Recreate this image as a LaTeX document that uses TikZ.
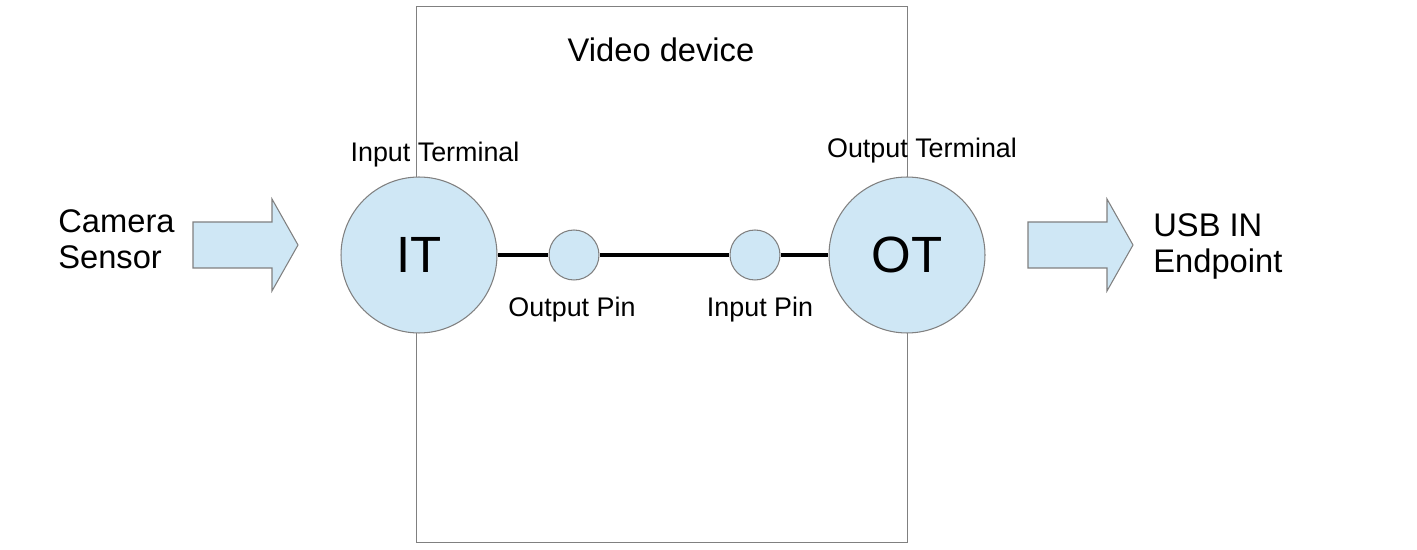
\documentclass[tikz,border=0pt]{standalone}
\usepackage{fontspec}
\setmainfont{Liberation Sans}
\usetikzlibrary{calc}
\definecolor{termblue}{HTML}{CFE7F5}
\definecolor{edgegray}{HTML}{808080}

\begin{document}
\begin{tikzpicture}[x=0.02cm,y=-0.02cm,
                    device/.style={draw=edgegray,line width=0.6pt,minimum width=9.84cm,minimum height=10.74cm},
                    terminal/.style={circle,draw=edgegray,line width=0.6pt,fill=termblue,inner sep=0pt,minimum size=3.12cm,font=\fontsize{29}{32}\selectfont},
                    pin/.style={circle,draw=edgegray,line width=0.6pt,fill=termblue,inner sep=0pt,minimum size=1cm},
                    wire/.style={line width=2.3pt,black},
                    block arrow/.style={draw=edgegray,line width=0.6pt,fill=termblue},
                    small label/.style={font=\fontsize{15.3}{18}\selectfont,inner sep=0pt},
                    big label/.style={font=\fontsize{18.6}{20.5}\selectfont,align=left,inner sep=0pt}]
            \useasboundingbox (0,0) rectangle (1417,550);
            \node[device] (device) at (662,274.5) {};
            \node[big label] (title) at (661,50) {Video device};
            \node[terminal] (it) at (419,255) {IT};
            \node[terminal] (ot) at (907,255) {OT};
            \node[pin] (out pin) at (574,255) {};
            \node[pin] (in pin) at (755,255) {};
            \draw[wire] (it) -- (out pin) -- (in pin) -- (ot);
            \node[small label] (it label) at (435,155) {Input Terminal};
            \node[small label] (ot label) at (922,151) {Output Terminal};
            \node[small label] (out pin label) at (572,310) {Output Pin};
            \node[small label] (in pin label) at (760,310) {Input Pin};
            \coordinate (sensor arrow) at (193,245);
            \coordinate (usb arrow) at (1028,245);
            \draw[block arrow] (sensor arrow) ++(0,-23) -- ++(79,0) -- ++(0,-23) -- ++(26,46) -- ++(-26,46) -- ++(0,-23) -- ++(-79,0) -- cycle;
            \draw[block arrow] (usb arrow) ++(0,-23) -- ++(79,0) -- ++(0,-23) -- ++(26,46) -- ++(-26,46) -- ++(0,-23) -- ++(-79,0) -- cycle;
            \node[big label,anchor=west] (sensor) at (58,239) {Camera\\Sensor};
            \node[big label,anchor=west] (usb) at (1153,246) {USB IN\\Endpoint};

        \end{tikzpicture}
\end{document}
